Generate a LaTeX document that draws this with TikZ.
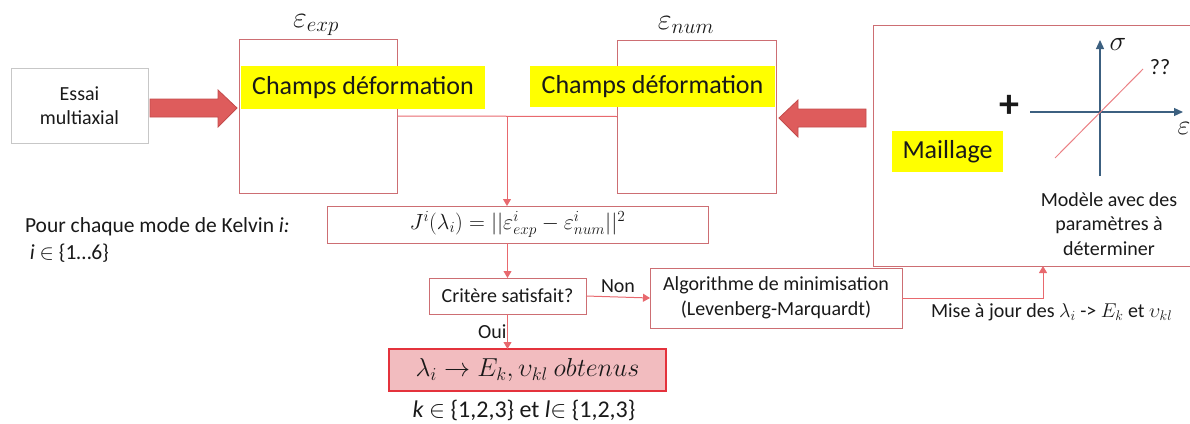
\RequirePackage{fix-cm}
\documentclass[tikz,border=0pt]{standalone}
\usepackage{fontspec}
\setmainfont{Carlito}
\usetikzlibrary{arrows.meta}
\definecolor{boxred}{RGB}{205,110,115}
\definecolor{linkred}{RGB}{232,105,110}
\definecolor{arrowfill}{RGB}{222,92,92}
\definecolor{arrowedge}{RGB}{195,75,75}
\definecolor{hl}{RGB}{255,255,0}
\definecolor{axiscol}{RGB}{60,96,128}
\definecolor{resfill}{RGB}{242,188,191}
\definecolor{resedge}{RGB}{228,50,60}
\definecolor{txt}{RGB}{25,25,25}
\begin{document}
\begin{tikzpicture}[x=1pt,y=-1pt,
  every node/.style={text=txt, inner sep=0pt, outer sep=0pt},
  fa/.style={font=\fontsize{20}{24.5}\selectfont},
  fb/.style={font=\fontsize{22}{24}\selectfont},
  fc/.style={font=\fontsize{26}{30}\selectfont},
  redbox/.style={draw=boxred, line width=1pt, rectangle},
  graybox/.style={draw=black!22, line width=1pt, rectangle},
  hlbox/.style={fill=hl, rectangle, fc},
  link/.style={draw=linkred, line width=1pt, -{Triangle[length=7pt,width=8pt]}},
  plainlink/.style={draw=linkred, line width=1pt},
  bigarrow/.style={fill=arrowfill, draw=arrowedge, line width=0.8pt},
  axisarrow/.style={draw=axiscol, line width=1.2pt, -{Triangle[length=9pt,width=8pt]}}
]
\useasboundingbox (0,0) rectangle (1190,423);

% top row
\node[graybox, fa, minimum width=137pt, minimum height=75pt, align=center] (essai) at (79.5,105.5) {Essai\\multiaxial};
\node[redbox, minimum width=158pt, minimum height=154pt] (bexp) at (318,116) {};
\node[redbox, minimum width=159pt, minimum height=153pt] (bnum) at (696.5,116.5) {};
\node[font=\fontsize{30}{34}\selectfont] (lexp) at (316,25) {$\varepsilon_{exp}$};
\node[font=\fontsize{30}{34}\selectfont] (lnum) at (686,25) {$\varepsilon_{num}$};
\node[hlbox, minimum width=244pt, minimum height=43pt] (y1) at (363,87.5) {Champs déformation};
\node[hlbox, minimum width=245pt, minimum height=41pt] (y2) at (652.5,86.5) {Champs déformation};

% big arrows
\draw[bigarrow] (150,99) -- (218,99) -- (218,90) -- (237,108) -- (218,127) -- (218,117) -- (150,117) -- cycle;
\draw[bigarrow] (866,109) -- (798,109) -- (798,100) -- (779,118) -- (798,137) -- (798,127) -- (866,127) -- cycle;

% model box
\node[redbox, minimum width=318pt, minimum height=241pt] (model) at (1032,145.5) {};
\node[hlbox, minimum width=111pt, minimum height=41pt] (maill) at (947.5,151.5) {Maillage};
\node[font=\fontsize{40}{40}\selectfont\bfseries] (plus) at (1009,106) {+};
\coordinate (xa0) at (1030,112);
\coordinate (xa1) at (1183,112);
\coordinate (ya0) at (1100,176);
\coordinate (ya1) at (1100,40);
\draw[axisarrow] (xa0) -- (xa1);
\draw[axisarrow] (ya0) -- (ya1);
\coordinate (c0) at (1055,158);
\coordinate (c1) at (1143,69);
\draw[draw=linkred!85, line width=1pt] (c0) -- (c1);
\node[font=\fontsize{28}{30}\selectfont] (sig) at (1118,44) {$\sigma$};
\node[fb] (qq) at (1160,67) {??};
\node[font=\fontsize{28}{30}\selectfont] (eps) at (1184,128) {$\varepsilon$};
\node[fa, align=center] (mtext) at (1109,224) {Modèle avec des\\paramètres à\\déterminer};

% connectors top
\draw[plainlink] (bexp.east) -- (bnum.west);
\coordinate (split) at (507,116);

% middle
\node[redbox, font=\fontsize{22}{26}\selectfont, minimum width=381pt, minimum height=37pt] (J) at (517.5,224.5) {$J^i(\lambda_i) = ||\varepsilon^i_{exp} - \varepsilon^i_{num}||^2$};
\draw[link] (split) -- (split |- J.north);
\node[font=\fontsize{21.5}{26.5}\selectfont, anchor=north west, align=left] (pour) at (25,218) {Pour chaque mode de Kelvin \textit{i:}\\\ \textit{i} $\in$ \{1…6\}};

\node[redbox, fa, minimum width=157pt, minimum height=36pt] (crit) at (507.5,296) {Critère satisfait?};
\draw[link] (J.south -| crit.north) -- (crit.north);

\node[redbox, fa, minimum width=252pt, minimum height=60pt, align=center] (algo) at (776,298) {Algorithme de minimisation\\(Levenberg-Marquardt)};
\draw[link] (crit.east) -- (algo.west) node[midway, above=4pt, fa] (non) {Non};

\coordinate (up) at (1043,298);
\draw[link] (algo.east) -- (up) -- (up |- model.south);
\node[fa, anchor=west] (maj) at (931,312) {Mise à jour des $\lambda_i$ -> $E_k$ et $\upsilon_{kl}$};

% result
\node[rectangle, fill=resfill, draw=resedge, line width=1.2pt, minimum width=277pt, minimum height=42pt, font=\fontsize{26}{30}\selectfont] (res) at (527.5,370) {$\lambda_i \rightarrow E_k, \upsilon_{kl}\ obtenus$};
\draw[link] (crit.south) -- (crit.south |- res.north) node[midway, left=1pt, fa] (oui) {Oui};
\node[font=\fontsize{24}{28}\selectfont] (kl) at (524,410) {\textit{k} $\in$ \{1,2,3\} et \textit{l}$\in$ \{1,2,3\}};
\end{tikzpicture}
\end{document}
